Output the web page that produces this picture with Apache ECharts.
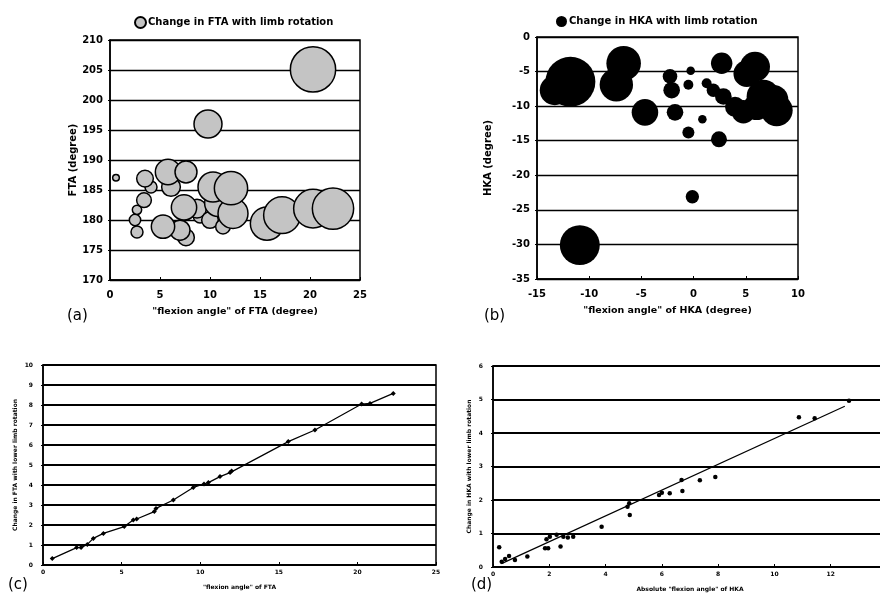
<!DOCTYPE html>
<html><head><meta charset="utf-8">
<script src="https://cdn.jsdelivr.net/npm/echarts@6/dist/echarts.min.js"></script>
<style>html,body{margin:0;padding:0;background:#fff}#c{width:880px;height:598px}</style>
</head><body><div id="c"></div>
<script>
// (a) bubbles: [flexion angle of FTA, FTA, change in FTA]
const ftaFlex   = [0.6, 2.7, 2.5, 2.7, 4.1, 3.4, 3.5, 6.1, 5.8, 7.6, 7.6, 7.0, 5.3, 9.0, 8.7, 7.4, 10.0, 11.3, 10.8, 10.3, 12.3, 12.1, 9.8, 15.7, 17.2, 20.3, 22.3, 20.3];
const ftaValue  = [187.05, 178.0, 180.0, 181.7, 185.5, 183.3, 186.9, 185.5, 188.0, 188.0, 177.1, 178.3, 178.9, 180.6, 181.9, 182.1, 180.0, 178.9, 182.8, 185.5, 181.1, 185.3, 196.0, 179.4, 180.8, 181.9, 181.9, 205.1];
const ftaChange = [0.44, 1.08, 0.99, 0.74, 1.08, 1.47, 1.78, 2.12, 3.35, 2.7, 1.78, 2.34, 2.96, 1.26, 2.12, 3.35, 1.78, 1.47, 3.63, 4.33, 4.33, 5.07, 3.9, 5.07, 5.88, 6.37, 7.03, 8.08];
// (b) bubbles: [flexion angle of HKA, HKA, change in HKA]
const hkaFlex   = [-11.8, -13.3, -10.9, -6.7, -7.4, -4.66, -2.26, -2.1, -1.78, -0.28, -0.5, -0.5, -0.12, 0.84, 2.43, 1.25, 2.69, 1.89, 2.85, 3.97, 4.77, 5.09, 5.88, 6.68, 7.64, 7.96, 6.04];
const hkaValue  = [-6.47, -7.7, -30.1, -3.8, -6.9, -10.9, -5.7, -7.7, -10.9, -4.87, -6.9, -13.8, -23.1, -11.9, -14.8, -6.7, -3.8, -7.7, -8.6, -10.1, -10.8, -5.3, -4.3, -8.6, -9.1, -10.6, -10.1];
const hkaChange = [4.5, 2.08, 3.21, 2.58, 2.45, 1.73, 0.70, 0.85, 0.85, 0.31, 0.39, 0.52, 0.61, 0.31, 0.80, 0.39, 1.25, 0.61, 0.85, 1.13, 1.43, 1.73, 2.08, 2.45, 2.08, 2.29, 1.73];
// (c) change in FTA vs flexion angle of FTA
const cFlex   = [0.59, 2.14, 2.42, 2.82, 3.2, 3.84, 5.17, 5.74, 5.96, 7.08, 7.19, 8.29, 9.56, 10.24, 10.52, 11.26, 11.9, 12.0, 15.6, 17.3, 20.27, 20.8, 22.28];
const cChange = [0.32, 0.87, 0.87, 1.03, 1.33, 1.58, 1.92, 2.25, 2.3, 2.67, 2.83, 3.25, 3.88, 4.05, 4.12, 4.42, 4.62, 4.7, 6.17, 6.75, 8.05, 8.08, 8.58];
// (d) change in HKA vs absolute flexion angle of HKA
const dFlex   = [0.22, 0.31, 0.43, 0.57, 0.78, 1.22, 1.85, 1.9, 1.96, 2.02, 2.26, 2.4, 2.5, 2.66, 2.85, 3.86, 4.78, 4.84, 4.86, 5.9, 6.0, 6.28, 6.7, 6.73, 7.35, 7.9, 10.87, 11.43, 12.65];
const dChange = [0.59, 0.16, 0.24, 0.33, 0.21, 0.31, 0.56, 0.83, 0.56, 0.9, 0.96, 0.61, 0.9, 0.88, 0.9, 1.2, 1.8, 1.9, 1.55, 2.15, 2.22, 2.2, 2.6, 2.27, 2.59, 2.69, 4.47, 4.44, 4.96];
const dTrendX = [0.3, 12.5];
const dTrendY = [0.1, 4.8];

const zip = (...a) => a[0].map((_, i) => a.map(r => r[i]));
const FONT = 'DejaVu Sans';
const bold = (s) => ({ fontFamily: FONT, fontWeight: 'bold', fontSize: s, color: '#000' });

function xAx(gi, min, max, itv, name, fs, nameFs, nameGap, labMargin) {
  return { type: 'value', gridIndex: gi, min, max, interval: itv,
    name, nameLocation: 'middle', nameGap, nameTextStyle: bold(nameFs),
    axisLine: { show: true, onZero: false, lineStyle: { color: '#000', width: 1.5 } },
    axisTick: { show: true, inside: true, length: 3, lineStyle: { color: '#000' } },
    axisLabel: Object.assign(bold(fs), { margin: labMargin }),
    splitLine: { show: false } };
}
function yAx(gi, min, max, itv, name, fs, nameFs, nameGap, labMargin, slw) {
  return { type: 'value', gridIndex: gi, min, max, interval: itv,
    name, nameLocation: 'middle', nameGap, nameTextStyle: bold(nameFs),
    axisLine: { show: true, onZero: false, lineStyle: { color: '#000', width: 1.5 } },
    axisTick: { show: true, inside: false, length: 2, lineStyle: { color: '#000' } },
    axisLabel: Object.assign(bold(fs), { margin: labMargin }),
    splitLine: { show: true, lineStyle: { color: '#000', width: slw } } };
}

const chart = echarts.init(document.getElementById('c'), null, { renderer: 'canvas' });
chart.setOption({
  backgroundColor: '#fff',
  animation: false,
  title: [
    { text: '(a)', left: 62, top: 304, textStyle: { fontFamily: FONT, fontSize: 15, fontWeight: 'normal', color: '#000' } },
    { text: '(b)', left: 479, top: 304, textStyle: { fontFamily: FONT, fontSize: 15, fontWeight: 'normal', color: '#000' } },
    { text: '(c)', left: 3, top: 573, textStyle: { fontFamily: FONT, fontSize: 15, fontWeight: 'normal', color: '#000' } },
    { text: '(d)', left: 466, top: 573, textStyle: { fontFamily: FONT, fontSize: 15, fontWeight: 'normal', color: '#000' } }
  ],
  legend: [
    { data: ['Change in FTA with limb rotation'], left: 129, top: 11, itemWidth: 11, itemHeight: 11, itemGap: 2, selectedMode: false, textStyle: Object.assign(bold(10), { padding: [0, 0, 0, -3] }) },
    { data: ['Change in HKA with limb rotation'], left: 551, top: 11, itemWidth: 11, itemHeight: 11, itemGap: 2, selectedMode: false, textStyle: Object.assign(bold(10), { padding: [0, 0, 0, -3] }) }
  ],
  grid: [
    { left: 110, top: 40, width: 250, height: 240, show: true, borderColor: '#000', borderWidth: 1.5, outerBoundsMode: 'none' },
    { left: 537, top: 37, width: 261, height: 242, show: true, borderColor: '#000', borderWidth: 1.5, outerBoundsMode: 'none' },
    { left: 43, top: 365, width: 393, height: 200, show: true, borderColor: '#000', borderWidth: 1.5, outerBoundsMode: 'none' },
    { left: 493, top: 366, width: 394, height: 201, show: true, borderColor: '#000', borderWidth: 1.5, outerBoundsMode: 'none' }
  ],
  xAxis: [
    xAx(0, 0, 25, 5, '"flexion angle" of FTA (degree)', 10, 9.5, 27, 10),
    xAx(1, -15, 10, 5, '"flexion angle" of HKA (degree)', 10, 9.5, 27, 10),
    xAx(2, 0, 25, 5, '"flexion angle" of FTA', 6, 6, 19, 4),
    xAx(3, 0, 14, 2, 'Absolute "flexion angle" of HKA', 6, 6, 19, 4)
  ],
  yAxis: [
    yAx(0, 170, 210, 5, 'FTA (degree)', 10, 10, 32, 7, 1.3),
    yAx(1, -35, 0, 5, 'HKA (degree)', 10, 10, 44, 7, 1.3),
    yAx(2, 0, 10, 1, 'Change in FTA with lower limb rotation', 6, 6, 25, 10, 2),
    yAx(3, 0, 6, 1, 'Change in HKA with lower limb rotation', 6, 6, 21, 10, 2)
  ],
  series: [
    { name: 'Change in FTA with limb rotation', type: 'scatter', xAxisIndex: 0, yAxisIndex: 0,
      data: zip(ftaFlex, ftaValue, ftaChange),
      symbolSize: v => 11.4 * Math.pow(v[2], 0.66),
      emphasis: { disabled: true }, large: false,
      itemStyle: { color: '#c4c4c4', borderColor: '#000', borderWidth: 1.5, opacity: 1 } },
    { name: 'Change in HKA with limb rotation', type: 'scatter', xAxisIndex: 1, yAxisIndex: 1,
      data: zip(hkaFlex, hkaValue, hkaChange),
      symbolSize: v => 18.5 * Math.pow(v[2], 0.66),
      emphasis: { disabled: true }, large: false,
      itemStyle: { color: '#000', borderWidth: 0, borderColor: 'rgba(0,0,0,0)', opacity: 1 } },
    { name: 'c', type: 'line', xAxisIndex: 2, yAxisIndex: 2,
      data: zip(cFlex, cChange), symbol: 'diamond', symbolSize: 5, showSymbol: true,
      itemStyle: { color: '#000' }, lineStyle: { color: '#000', width: 1.2 } },
    { name: 'd', type: 'scatter', xAxisIndex: 3, yAxisIndex: 3,
      data: zip(dFlex, dChange), symbol: 'circle', symbolSize: 4.5,
      itemStyle: { color: '#000', opacity: 1 } },
    { name: 'dtrend', type: 'line', xAxisIndex: 3, yAxisIndex: 3,
      data: zip(dTrendX, dTrendY), symbol: 'none',
      lineStyle: { color: '#000', width: 1.2 } }
  ]
});
</script></body></html>
